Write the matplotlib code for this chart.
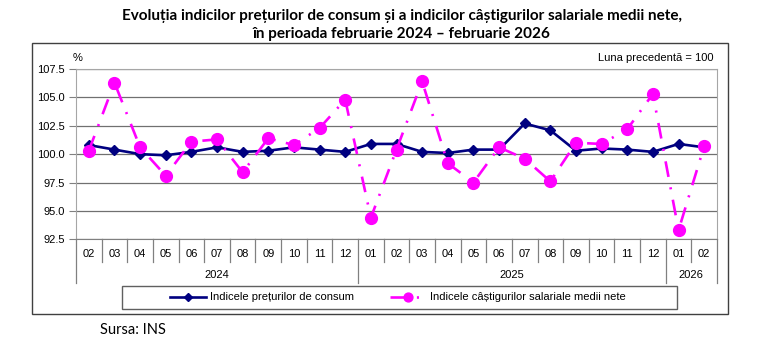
import numpy as np
import matplotlib.pyplot as plt
from matplotlib.patches import Rectangle

# data (previous month = 100)
months = ['02', '03', '04', '05', '06', '07', '08', '09', '10', '11', '12',
          '01', '02', '03', '04', '05', '06', '07', '08', '09', '10', '11', '12',
          '01', '02']
years = ['2024', '2025', '2026']
year_len = [11, 12, 2]

cpi = [100.8, 100.4, 100.0, 99.9, 100.2, 100.6, 100.2, 100.3, 100.6, 100.4, 100.2,
       100.9, 100.9, 100.2, 100.1, 100.4, 100.4, 102.7, 102.1, 100.3, 100.5, 100.4, 100.2,
       100.9, 100.6]
wages = [100.3, 106.3, 100.6, 98.1, 101.1, 101.3, 98.4, 101.4, 100.8, 102.3, 104.8,
         94.4, 100.4, 106.4, 99.2, 97.5, 100.6, 99.6, 97.6, 101.0, 100.9, 102.2, 105.3,
         93.3, 100.7]

cpi_label = 'Indicele prețurilor de consum'
wage_label = 'Indicele câștigurilor salariale medii nete'

plt.rcParams['font.family'] = ['Liberation Sans', 'DejaVu Sans']

W, H = 759, 355
fig = plt.figure(figsize=(W / 100, H / 100), dpi=100)

# plot area in pixels
left, right, top, bottom = 76, 717, 69, 239.3
ax = fig.add_axes([left / W, 1 - bottom / H, (right - left) / W, (bottom - top) / H])
ax_h = bottom - top

x = np.arange(len(months))
ax.plot(x, cpi, color='#000080', lw=1.9, marker='D', ms=5, zorder=3, label=cpi_label)
ax.plot(x, wages, color='#ff00ff', lw=1.9, marker='o', ms=8.5, zorder=4,
        dashes=(6, 4, 0.8, 4), label=wage_label)

ax.set_xlim(-0.5, len(months) - 0.5)
ax.set_ylim(92.5, 107.5)
ax.set_yticks(np.arange(92.5, 107.6, 2.5))
ax.set_yticklabels([f'{v:.1f}' for v in np.arange(92.5, 107.6, 2.5)], fontsize=8)
ax.tick_params(axis='y', length=5, color='#808080', pad=3)
ax.grid(axis='y', color='#707070', lw=0.9)
ax.set_axisbelow(True)
ax.set_xticks([])
for s in ax.spines.values():
    s.set_color('#a6a6a6')
ax.spines['bottom'].set_color('#808080')

# month labels and separators under the axis
tr = ax.get_xaxis_transform()
for i, m in enumerate(months):
    ax.text(i, -15 / ax_h, m, transform=tr, ha='center', va='center', fontsize=8)
bounds = np.cumsum([0] + year_len) - 0.5
for b in np.arange(-0.5, len(months)):
    depth = 44 if b in bounds else 23
    ax.plot([b, b], [0, -depth / ax_h], transform=tr, color='#808080', lw=0.9, clip_on=False)
for k, yr in enumerate(years):
    ax.text((bounds[k] + bounds[k + 1]) / 2, -36 / ax_h, yr, transform=tr,
            ha='center', va='center', fontsize=8)

fig.text(78 / W, 1 - 58 / H, '%', ha='center', va='center', fontsize=8)
fig.text(714 / W, 1 - 58 / H, 'Luna precedentă = 100', ha='right', va='center', fontsize=8)

# outer frame and legend box
fig.patches.append(Rectangle((31.7 / W, 1 - 314 / H), (728 - 31.7) / W, (314 - 43.3) / H,
                             transform=fig.transFigure, fill=False, ec='#404040', lw=1))
fig.patches.append(Rectangle((122 / W, 1 - 309 / H), (677 - 122) / W, (309 - 286) / H,
                             transform=fig.transFigure, fill=False, ec='#606060', lw=1))
fig.legend(loc='center', bbox_to_anchor=(398 / W, 1 - 297.5 / H), ncol=2, frameon=False,
           fontsize=8, handlelength=3.2, columnspacing=3.2, handletextpad=0.4,
           markerscale=0.75)

fig.text(402 / W, 1 - 16 / H,
         'Evoluția indicilor prețurilor de consum și a indicilor câștigurilor salariale medii nete,',
         ha='center', va='center', fontsize=11, fontweight='bold', family='Lato')
fig.text(402 / W, 1 - 34 / H, 'în perioada februarie 2024 – februarie 2026',
         ha='center', va='center', fontsize=11, fontweight='bold', family='Lato')
fig.text(100 / W, 1 - 330 / H, 'Sursa: INS', ha='left', va='center', fontsize=10.5, family='Lato')

fig.savefig('out.png', dpi=100)
